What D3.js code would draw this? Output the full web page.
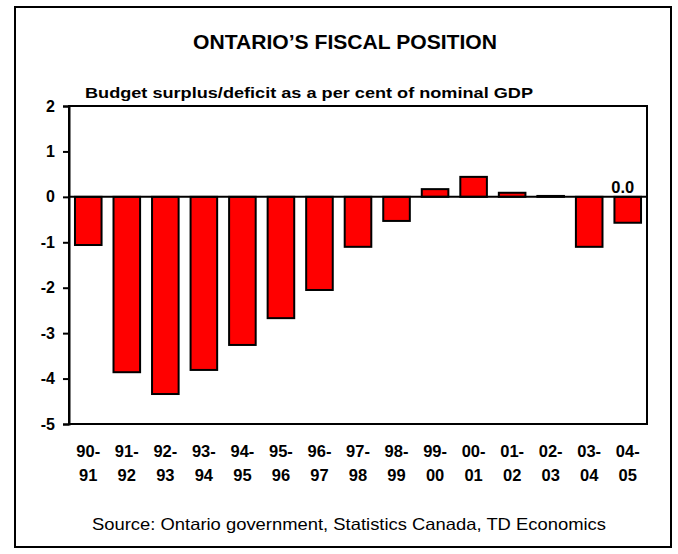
<!DOCTYPE html>
<html>
<head>
<meta charset="utf-8">
<script src="https://cdn.jsdelivr.net/npm/d3@7"></script>
<style>
  html, body { margin: 0; padding: 0; background: #fff; }
  svg { display: block; font-family: "Liberation Sans", Arial, sans-serif; }
</style>
</head>
<body>
<svg id="chart" width="678" height="554"></svg>
<script>
// Fiscal years and Ontario budget balance (% of nominal GDP)
const yearStart = ["90-", "91-", "92-", "93-", "94-", "95-", "96-", "97-", "98-", "99-", "00-", "01-", "02-", "03-", "04-"];
const yearEnd   = ["91", "92", "93", "94", "95", "96", "97", "98", "99", "00", "01", "02", "03", "04", "05"];
const balance   = [-1.06, -3.86, -4.34, -3.81, -3.26, -2.67, -2.05, -1.1, -0.53, 0.17, 0.44, 0.09, 0.02, -1.1, -0.57];
// Budget target shown for the final year
const targetYear  = ["04-"];
const targetValue = [0.0];
const yTicks = [-5, -4, -3, -2, -1, 0, 1, 2];

const svg = d3.select("#chart");

// Outer frame
svg.append("rect")
  .attr("x", 15).attr("y", 7).attr("width", 656).attr("height", 540)
  .attr("fill", "#fff").attr("stroke", "#000").attr("stroke-width", 2);

const plot = { left: 69, right: 647, top: 106, bottom: 424 };

const x = d3.scaleBand()
  .domain(yearStart)
  .range([plot.left, plot.right])
  .paddingInner(0.31)
  .paddingOuter(0.155);

const y = d3.scaleLinear()
  .domain([-5, 2])
  .range([plot.bottom, plot.top]);

// Title and subtitle
svg.append("text")
  .attr("x", 193).attr("y", 49)
  .attr("font-size", 19.5).attr("font-weight", "bold")
  .attr("textLength", 304).attr("lengthAdjust", "spacingAndGlyphs")
  .text("ONTARIO\u2019S FISCAL POSITION");

svg.append("text")
  .attr("x", 85).attr("y", 98)
  .attr("font-size", 15.5).attr("font-weight", "bold")
  .attr("textLength", 448).attr("lengthAdjust", "spacingAndGlyphs")
  .text("Budget surplus/deficit as a per cent of nominal GDP");

// Bars
svg.append("g").selectAll("rect")
  .data(balance)
  .join("rect")
  .attr("x", (d, i) => x(yearStart[i]))
  .attr("width", x.bandwidth())
  .attr("y", d => y(Math.max(0, d)))
  .attr("height", d => Math.abs(y(d) - y(0)))
  .attr("fill", "#ff0000")
  .attr("stroke", "#000")
  .attr("stroke-width", 2);

// Zero line
svg.append("line")
  .attr("x1", plot.left).attr("x2", plot.right)
  .attr("y1", y(0)).attr("y2", y(0))
  .attr("stroke", "#000").attr("stroke-width", 2);

// Plot box
svg.append("rect")
  .attr("x", plot.left).attr("y", plot.top)
  .attr("width", plot.right - plot.left).attr("height", plot.bottom - plot.top)
  .attr("fill", "none").attr("stroke", "#000").attr("stroke-width", 2);

// Y axis
const yAxis = svg.append("g")
  .attr("transform", `translate(${plot.left},0)`)
  .call(d3.axisLeft(y).tickValues(yTicks).tickSize(6).tickPadding(8).tickFormat(d => String(d)));
yAxis.select(".domain").attr("stroke-width", 2);
yAxis.selectAll(".tick line").attr("stroke-width", 2);
yAxis.selectAll(".tick text")
  .attr("font-family", "Liberation Sans, Arial, sans-serif")
  .attr("font-size", 16).attr("font-weight", "bold").attr("fill", "#000");

// X category labels (two lines)
const xl = svg.append("g").selectAll("text")
  .data(yearStart)
  .join("text")
  .attr("text-anchor", "middle")
  .attr("font-size", 16.5).attr("font-weight", "bold");
xl.append("tspan")
  .attr("x", d => x(d) + x.bandwidth() / 2)
  .attr("y", 457)
  .text(d => d);
xl.append("tspan")
  .attr("x", d => x(d) + x.bandwidth() / 2)
  .attr("y", 481)
  .text((d, i) => yearEnd[i]);

// Target label
svg.append("g").selectAll("text")
  .data(targetValue)
  .join("text")
  .attr("x", (d, i) => x(targetYear[i]) + x.bandwidth() / 2 - 5)
  .attr("y", d => y(d) - 4)
  .attr("text-anchor", "middle")
  .attr("font-size", 16.5).attr("font-weight", "bold")
  .text(d => d3.format(".1f")(d));

// Source
svg.append("text")
  .attr("x", 92).attr("y", 530)
  .attr("font-size", 16.5)
  .attr("textLength", 514).attr("lengthAdjust", "spacingAndGlyphs")
  .text("Source: Ontario government, Statistics Canada, TD Economics");
</script>
</body>
</html>
